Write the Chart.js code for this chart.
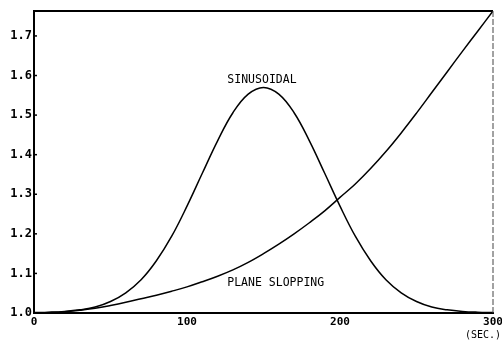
<!DOCTYPE html>
<html>
<head>
<meta charset="utf-8">
<script src="https://cdn.jsdelivr.net/npm/chart.js@4/dist/chart.umd.min.js"></script>
<style>
  html, body { margin: 0; padding: 0; background: #fff; }
  #wrap { width: 502px; height: 343px; }
</style>
</head>
<body>
<div id="wrap"><canvas id="c" width="502" height="343"></canvas></div>
<script>
// Time in seconds
const times = [0, 10, 20, 30, 40, 50, 60, 70, 80, 90, 100, 110, 120, 130, 140, 150,
               160, 170, 180, 190, 200, 210, 220, 230, 240, 250, 260, 270, 280, 290, 300];

// Sinusoidal profile
const sinusoidal = [1.001, 1.002, 1.004, 1.008, 1.015, 1.029, 1.051, 1.084, 1.132, 1.194,
                    1.270, 1.353, 1.435, 1.506, 1.553, 1.570, 1.553, 1.506, 1.435, 1.353,
                    1.270, 1.194, 1.132, 1.084, 1.051, 1.029, 1.015, 1.008, 1.004, 1.002, 1.001];

// Plane slopping profile
const planeSlopping = [1.000, 1.001, 1.003, 1.007, 1.012, 1.019, 1.027, 1.036, 1.045, 1.055,
                       1.066, 1.079, 1.093, 1.109, 1.128, 1.150, 1.174, 1.200, 1.228, 1.258,
                       1.292, 1.326, 1.365, 1.408, 1.455, 1.505, 1.557, 1.609, 1.661, 1.712, 1.763];

const xTicks = [0, 100, 200, 300];
const yTicks = [1.0, 1.1, 1.2, 1.3, 1.4, 1.5, 1.6, 1.7];

const curveLabels = [
  { text: 'SINUSOIDAL', x: 149, y: 1.588 },
  { text: 'PLANE SLOPPING', x: 158, y: 1.076 }
];

const MONO = 'DejaVu Sans Mono';

// Frame, inward ticks, curve captions and the unit caption
const decor = {
  id: 'decor',
  afterDatasetsDraw(chart) {
    const { ctx, chartArea: a, scales } = chart;
    const xs = scales.x, ys = scales.y;
    ctx.save();
    // top edge
    ctx.strokeStyle = '#000';
    ctx.lineWidth = 2;
    ctx.beginPath();
    ctx.moveTo(a.left, a.top); ctx.lineTo(a.right, a.top);
    ctx.stroke();
    // right edge, thin and broken
    ctx.lineWidth = 1;
    ctx.strokeStyle = '#444';
    ctx.setLineDash([6, 2]);
    ctx.beginPath();
    ctx.moveTo(a.right, a.top); ctx.lineTo(a.right, a.bottom);
    ctx.stroke();
    ctx.setLineDash([]);
    // inward y ticks
    ctx.strokeStyle = '#000';
    ctx.lineWidth = 1.5;
    yTicks.forEach(v => {
      const py = ys.getPixelForValue(v);
      ctx.beginPath();
      ctx.moveTo(a.left, py); ctx.lineTo(a.left + 3, py);
      ctx.stroke();
    });
    // curve captions
    ctx.fillStyle = '#000';
    ctx.font = '11.5px "' + MONO + '"';
    ctx.textAlign = 'center';
    ctx.textBaseline = 'middle';
    curveLabels.forEach(l => {
      ctx.fillText(l.text, xs.getPixelForValue(l.x), ys.getPixelForValue(l.y));
    });
    // unit caption under the last x tick
    ctx.font = '10px "' + MONO + '"';
    ctx.textAlign = 'right';
    ctx.fillText('(SEC.)', chart.width - 1, a.bottom + 22);
    ctx.restore();
  }
};

new Chart(document.getElementById('c'), {
  type: 'line',
  data: {
    datasets: [
      {
        label: 'SINUSOIDAL',
        data: times.map((t, i) => ({ x: t, y: sinusoidal[i] })),
        borderColor: '#000',
        borderWidth: 1.5,
        pointRadius: 0,
        tension: 0.4,
        fill: false
      },
      {
        label: 'PLANE SLOPPING',
        data: times.map((t, i) => ({ x: t, y: planeSlopping[i] })),
        borderColor: '#000',
        borderWidth: 1.5,
        pointRadius: 0,
        tension: 0.4,
        fill: false
      }
    ]
  },
  options: {
    responsive: false,
    animation: false,
    devicePixelRatio: 1,
    layout: { padding: { top: 11, right: 9, left: 0, bottom: 0 }, autoPadding: false },
    plugins: {
      legend: { display: false },
      tooltip: { enabled: false }
    },
    scales: {
      x: {
        type: 'linear',
        min: 0,
        max: 300,
        afterFit(s) { s.height = 30; s.paddingLeft = 0; s.paddingRight = 0; },
        afterBuildTicks(s) { s.ticks = xTicks.map(v => ({ value: v })); },
        border: { display: true, color: '#000', width: 2 },
        grid: { display: false, drawTicks: false },
        ticks: {
          color: '#000',
          padding: 3,
          maxRotation: 0,
          autoSkip: false,
          font: { family: MONO, size: 11, weight: 'bold' },
          callback: v => String(v)
        }
      },
      y: {
        type: 'linear',
        min: 1.0,
        max: 1.763,
        afterFit(s) { s.width = 34; s.paddingTop = 0; s.paddingBottom = 0; },
        afterBuildTicks(s) { s.ticks = yTicks.map(v => ({ value: v })); },
        border: { display: true, color: '#000', width: 2 },
        grid: { display: false, drawTicks: false },
        ticks: {
          color: '#000',
          padding: 2,
          autoSkip: false,
          font: { family: MONO, size: 12, weight: 'bold' },
          callback: v => Number(v).toFixed(1)
        }
      }
    }
  },
  plugins: [decor]
});
</script>
</body>
</html>
